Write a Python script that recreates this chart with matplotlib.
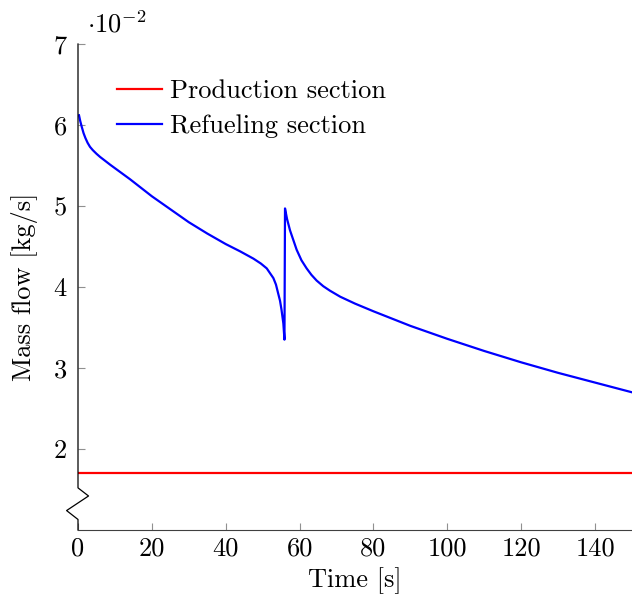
import matplotlib.pyplot as plt
import numpy as np

plt.switch_backend('Agg')
plt.rcParams['font.family'] = ['cmr10', 'DejaVu Serif']
plt.rcParams['mathtext.fontset'] = 'cm'
plt.rcParams['axes.formatter.use_mathtext'] = True

# Dados (massa em kg/s)
tempo_ref = [0.27, 0.6, 1.0, 1.5, 2.0, 2.6, 3.25, 4.0, 5.0, 6.0, 7.0, 8.7,
             14.1, 20.0, 25.0, 30.0, 35.0, 40.0, 43.9, 47.5, 49.5, 51.1, 52.9,
             53.6, 54.2, 54.7, 55.1, 55.6, 55.9,
             56.05, 56.6, 57.4, 58.3, 59.2, 60.5, 61.9, 63.2, 64.6, 66.4, 68.2,
             71.0, 75.0, 80.0, 90.0, 100.0, 110.0, 120.0, 130.0, 140.0, 150.0]
vazao_ref = [0.0612, 0.0605, 0.0598, 0.0590, 0.0584, 0.0578, 0.0573, 0.0569,
             0.05645, 0.05605, 0.0557, 0.0551,
             0.0533, 0.0512, 0.0496, 0.0480, 0.0466, 0.0453, 0.0444, 0.0435,
             0.0429, 0.0423, 0.0411,
             0.0403, 0.0392, 0.0383, 0.0372, 0.0355, 0.0335,
             0.0497, 0.0484, 0.0470, 0.0458, 0.0446, 0.0433, 0.0423, 0.0415,
             0.0408, 0.0401, 0.03955,
             0.0388, 0.03795, 0.0370, 0.0352, 0.0336, 0.0321, 0.0307,
             0.0294, 0.0282, 0.0270]
tempo_prod = [0, 150]
vazao_prod = [0.0170, 0.0170]

xticks = [0, 20, 40, 60, 80, 100, 120, 140]
yticks = [2, 3, 4, 5, 6, 7]
escala = 100  # eixo em unidades de 10^-2
fs = 19

fig = plt.figure(figsize=(6.32, 6.04), dpi=100)
ax = fig.add_axes([78/632, 74/604, 554/632, 486/604])

ax.plot(tempo_prod, np.array(vazao_prod)*escala, color='red', lw=1.6, label='Production section')
ax.plot(tempo_ref, np.array(vazao_ref)*escala, color='blue', lw=1.6, label='Refueling section')

ax.set_xlim(0, 150)
ax.set_ylim(1.0, 7.0)
ax.set_xticks(xticks)
ax.set_xticklabels([str(t) for t in xticks])
ax.set_yticks(yticks)
ax.set_yticklabels([str(t) for t in yticks])
ax.tick_params(direction='in', length=5, width=0.8, color='#909090', labelsize=fs)
ax.tick_params(axis='y', pad=8)
ax.tick_params(axis='x', pad=5)

for s in ['top', 'right', 'left']:
    ax.spines[s].set_visible(False)
ax.spines['bottom'].set_color('#404040')

# eixo y com quebra (zigue-zague)
tr = ax.get_yaxis_transform()
ax.plot([0, 0, 0.019, -0.0206, 0, 0], [7.0, 1.52, 1.42, 1.24, 1.13, 1.0],
        color='black', lw=0.9, transform=tr, clip_on=False)

ax.text(0.016, 1.014, r'$\cdot 10^{-2}$', transform=ax.transAxes, fontsize=fs,
        ha='left', va='bottom')

ax.set_xlabel('Time [s]', fontsize=fs, labelpad=5)
ax.set_ylabel('Mass flow [kg/s]', fontsize=fs, labelpad=11)

ax.legend(loc='upper left', bbox_to_anchor=(0.052, 0.949), frameon=False, fontsize=fs,
          handlelength=1.7, handletextpad=0.3, labelspacing=0.42, borderaxespad=0)

fig.savefig('out.png', dpi=100)
